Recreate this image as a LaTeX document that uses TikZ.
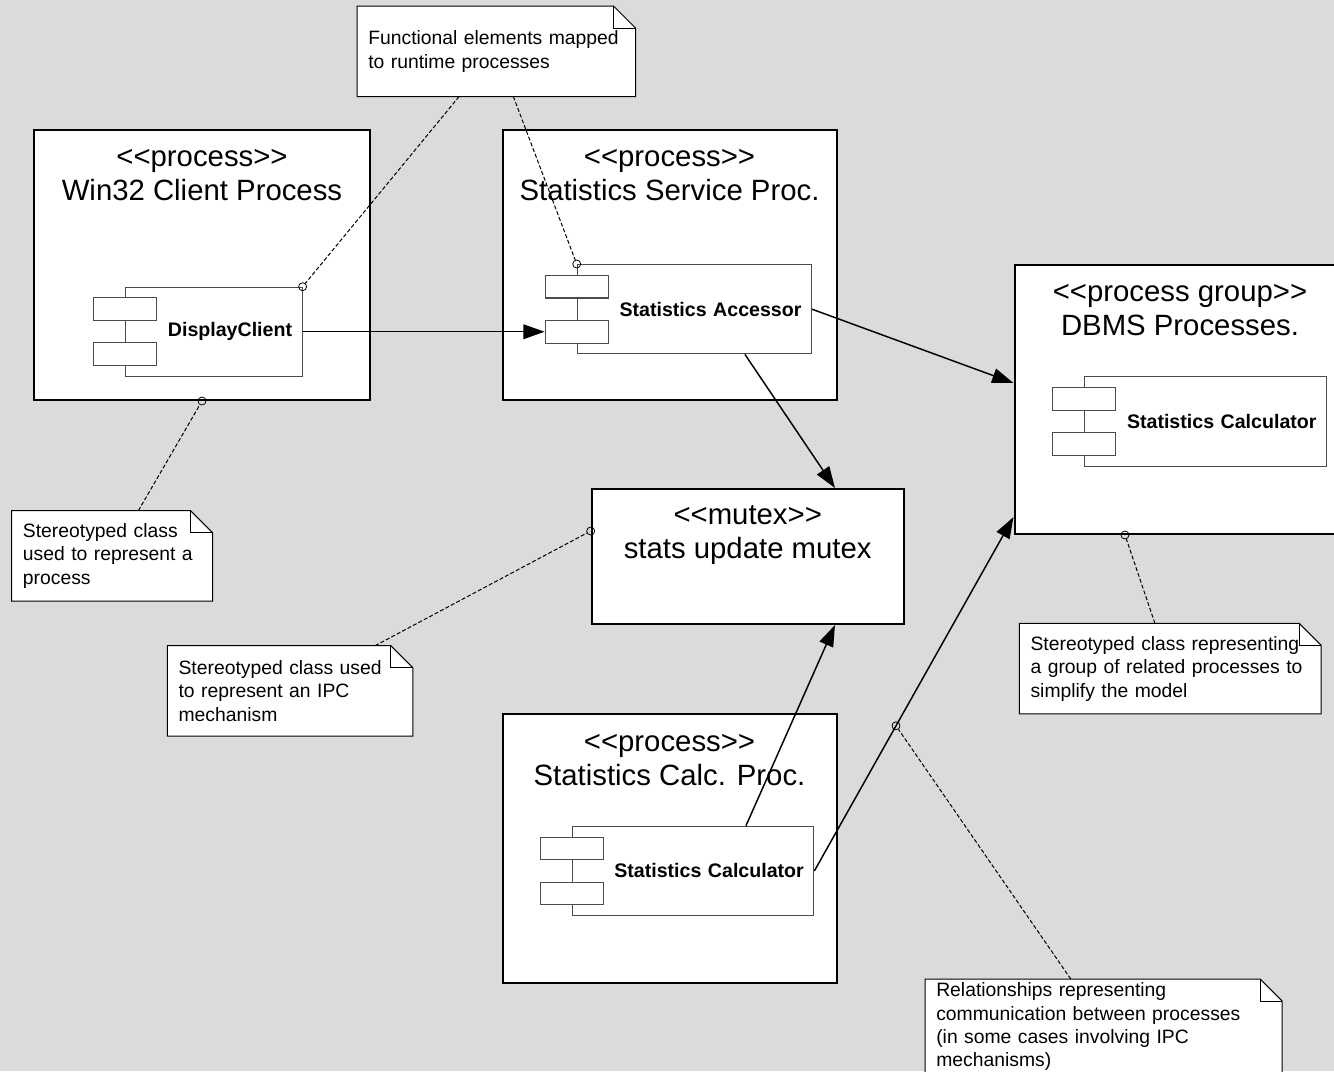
\documentclass[tikz,border=0pt]{standalone}
\usepackage{fontspec}
\setmainfont{Liberation Sans}[Ligatures=TeXOff]
\usetikzlibrary{arrows.meta,calc}
\pgfdeclarelayer{paper}
\pgfsetlayers{paper,main}

\tikzset{
  procbox/.style={draw=black, line width=1.5pt, fill=white, anchor=north west, inner sep=0pt},
  proctitle/.style={align=center, font=\fontsize{22}{25.5}\selectfont, inner sep=0pt},
  compbody/.style={draw=black!70, line width=0.8pt, fill=white, anchor=north west,
    inner xsep=7.5pt, inner ysep=0pt, align=right, font=\bfseries\fontsize{14.7}{17}\selectfont},
  comptab/.style={draw=black!70, line width=0.8pt, fill=white, minimum width=47.25pt,
    minimum height=17pt, inner sep=0pt},
  note/.style={anchor=north west, inner xsep=8.25pt, inner ysep=0pt, align=left,
    font=\fontsize{14.5}{17.6}\selectfont},
  noteline/.style={draw=black, line width=0.75pt},
  anchordot/.style={circle, draw=black, line width=0.6pt, minimum size=6pt, inner sep=0pt},
  annot/.style={draw=black, line width=0.75pt, dash pattern=on 3pt off 1.6pt},
  flow/.style={draw=black, line width=1.1pt, -{Triangle[length=16pt,width=11pt]}},
}

% note with a folded top-right corner, outline kept under the text
\newcommand{\notebox}[1]{%
  \begin{pgfonlayer}{paper}
    \draw[noteline, fill=white] (#1.north west) -- ([xshift=-16.5pt]#1.north east)
      -- ([yshift=-16.5pt]#1.north east) -- (#1.south east) -- (#1.south west) -- cycle;
    \draw[noteline] ([xshift=-16.5pt]#1.north east) |- ([yshift=-16.5pt]#1.north east);
  \end{pgfonlayer}}

% component body with its two tabs on the left edge
\newcommand{\comptabs}[1]{%
  \node[comptab] (#1-t1) at ([yshift=16.9pt]#1.west) {};
  \node[comptab] (#1-t2) at ([yshift=-16.9pt]#1.west) {};}

\begin{document}
\begin{tikzpicture}[x=0.75pt, y=-0.75pt]
  \useasboundingbox (0,0) rectangle (1334,1071);
  \clip (0,0) rectangle (1334,1071);
  \begin{pgfonlayer}{paper}
    \fill[black!14] (0,0) rectangle (1334,1071);
  \end{pgfonlayer}

  % process boxes
  \node[procbox, minimum width=252pt, minimum height=202.5pt] (win) at (33,129) {};
  \node[proctitle] (win-title) at ($(win.north)+(0,46)$) {<<process>>\\Win32 Client Process};

  \node[procbox, minimum width=250.5pt, minimum height=202.5pt] (svc) at (501.5,129) {};
  \node[proctitle] (svc-title) at ($(svc.north)+(0,46)$) {<<process>>\\Statistics Service Proc.};

  \node[procbox, minimum width=255pt, minimum height=201.75pt] (dbms) at (1013.5,264) {};
  \node[proctitle] (dbms-title) at ($(dbms.north west)+(166.5,46)$) {<<process group>>\\DBMS Processes.};

  \node[procbox, minimum width=234pt, minimum height=101.25pt] (mutex) at (590.7,488) {};
  \node[proctitle] (mutex-title) at ($(mutex.north)+(0,47)$) {<<mutex>>\\stats update mutex};

  \node[procbox, minimum width=250.5pt, minimum height=201.75pt] (calcp) at (501.5,713) {};
  \node[proctitle] (calcp-title) at ($(calcp.north)+(0,47)$) {<<process>>\\Statistics Calc. Proc.};

  % components
  \node[compbody, text width=117.4pt, minimum height=66.75pt] (dc) at (125,286.7) {DisplayClient};
  \comptabs{dc}
  \node[compbody, text width=160.7pt, minimum height=67pt] (acc) at (576.7,264) {Statistics Accessor};
  \comptabs{acc}
  \node[compbody, text width=166.5pt, minimum height=67.25pt] (dbc) at (1084,376) {Statistics Calculator};
  \comptabs{dbc}
  \node[compbody, text width=166.2pt, minimum height=67pt] (calc) at (571.7,825.7) {Statistics Calculator};
  \comptabs{calc}

  % connector end points on box edges
  \coordinate (dbms-in1) at ([yshift=-89.25pt]dbms.north west);
  \coordinate (dbms-in2) at ([yshift=13.5pt]dbms.south west);
  \coordinate (mutex-top) at ([xshift=183.2pt]mutex.north west);
  \coordinate (mutex-bot) at ([xshift=183.2pt]mutex.south west);
  \coordinate (acc-out) at ([xshift=126.2pt]acc.south west);
  \coordinate (calc-out) at ([xshift=130.7pt]calc.north west);

  % communication between processes
  \draw[flow] (dc.east) -- (acc-t2.west);
  \draw[flow] (acc.east) -- (dbms-in1);
  \draw[flow] (acc-out) -- (mutex-top);
  \draw[flow] (calc-out) -- (mutex-bot);
  \draw[flow] (calc.east) -- node[anchordot, pos=0.41] (c6) {} (dbms-in2);

  % attachment points of the notes
  \node[anchordot] (c1) at (dc.north east) {};
  \node[anchordot] (c2) at (acc.north west) {};
  \node[anchordot] (c3) at (win.south) {};
  \node[anchordot] (c4) at ([yshift=-32.25pt]mutex.north west) {};
  \node[anchordot] (c5) at ([xshift=83.6pt]dbms.south west) {};

  % notes
  \node[note, text width=192pt, minimum height=67.5pt] (n1) at (357,6)
    {Functional elements mapped\\to runtime processes};
  \notebox{n1}
  \node[note, text width=133.7pt, minimum height=67.5pt] (n2) at (11.7,510.7)
    {Stereotyped class\\used to represent a\\process};
  \notebox{n2}
  \node[note, text width=167.25pt, minimum height=67.5pt] (n3) at (167.3,645.7)
    {Stereotyped class used\\to represent an IPC\\mechanism};
  \notebox{n3}
  \node[note, text width=209.5pt, minimum height=67.5pt] (n4) at (1019.3,623.3)
    {Stereotyped class representing\\a group of related processes to\\simplify the model};
  \notebox{n4}
  \node[note, text width=251pt, minimum height=71.25pt] (n5) at (925,979)
    {Relationships representing\\communication between processes\\(in some cases involving IPC\\mechanisms)};
  \notebox{n5}

  % note links
  \draw[annot] (n1) -- (c1);
  \draw[annot] (n1) -- (c2);
  \draw[annot] (n2) -- (c3);
  \draw[annot] (n3) -- (c4);
  \draw[annot] (n4) -- (c5);
  \draw[annot] (n5) -- (c6);
\end{tikzpicture}
\end{document}
